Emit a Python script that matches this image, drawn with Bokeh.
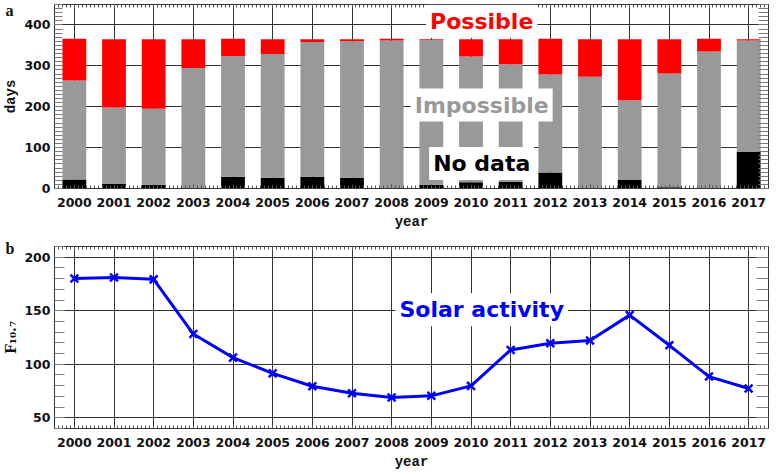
import math
from bokeh.plotting import figure
from bokeh.layouts import column
from bokeh.models import (Range1d, SingleIntervalTicker, LinearAxis, Label,
                          ColumnDataSource, Title, CustomLabelingPolicy)
from bokeh.embed import file_html
from bokeh.resources import INLINE

# ---------------- data ----------------
years = [2000, 2001, 2002, 2003, 2004, 2005, 2006, 2007, 2008,
         2009, 2010, 2011, 2012, 2013, 2014, 2015, 2016, 2017]
no_data = [22, 11, 9, 0, 29, 26, 29, 26, 0, 9, 15, 16, 39, 2, 21, 3, 0, 89]
impossible = [242, 187, 186, 295, 295, 303, 329, 334, 362, 354, 308, 288,
              240, 271, 195, 278, 335, 273]
possible = [102, 167, 170, 70, 42, 36, 7, 5, 4, 2, 42, 61, 87, 92, 149, 84, 31, 3]
f107 = [180.2, 181.0, 179.3, 128.2, 106.2, 91.5, 79.5, 72.9, 69.0,
        70.5, 79.8, 113.4, 119.7, 122.2, 145.9, 117.7, 88.5, 77.4]

# ---------------- layout / style ----------------
X0, X1 = 1999.5, 2017.5
FW = 714
LEFT, RIGHT = 50, 4
H1, H2 = 184, 182
TICK_FONT = "DejaVu Sans"
LABEL_FONT = "Liberation Mono"
GRID = "#333333"
MINOR = "#7a7a7a"

NO_LABELS = CustomLabelingPolicy(code="return new Set()")


def base_fig(h, y0, y1, top_border):
    p = figure(frame_width=FW, frame_height=h, x_range=Range1d(X0, X1),
               y_range=Range1d(y0, y1), output_backend="svg",
               toolbar_location=None, min_border_left=LEFT,
               min_border_right=RIGHT, min_border_top=top_border,
               min_border_bottom=0)
    p.outline_line_color = "#333333"
    p.outline_line_width = 1
    p.background_fill_color = "white"
    p.border_fill_color = "white"
    return p


def style_axes(p, y_interval, y_minor, left_in, right_in, ylabel, ylabel_font):
    xt = SingleIntervalTicker(interval=1, num_minor_ticks=10)
    yt = SingleIntervalTicker(interval=y_interval, num_minor_ticks=y_minor)
    bx = p.below[0]
    ly = p.left[0]
    bx.ticker = xt
    ly.ticker = yt
    p.xgrid.ticker = xt
    p.ygrid.ticker = yt
    for g in (p.xgrid, p.ygrid):
        g.grid_line_color = GRID
        g.grid_line_width = 1
    for ax in (bx, ly):
        ax.major_label_text_font = TICK_FONT
        ax.major_label_text_font_style = "bold"
        ax.major_label_text_font_size = "12.5px"
        ax.major_label_text_color = "#111111"
        ax.axis_line_color = "#333333"
        ax.major_tick_out = 0
        ax.minor_tick_out = 0
        ax.axis_label_text_font = LABEL_FONT
        ax.axis_label_text_font_style = "bold"
        ax.axis_label_text_font_size = "14px"
        ax.axis_label_text_color = "#111111"
    bx.major_tick_in = 4
    bx.minor_tick_in = 3
    bx.major_tick_line_color = "#444444"
    bx.minor_tick_line_color = "#555555"
    bx.major_label_standoff = 9
    bx.axis_label = "year"
    bx.axis_label_standoff = 4
    ly.major_tick_in = left_in
    ly.minor_tick_in = left_in
    ly.major_tick_line_color = MINOR
    ly.minor_tick_line_color = MINOR
    ly.major_label_standoff = 4
    ly.axis_label = ylabel
    ly.axis_label_standoff = 2
    ly.axis_label_text_font = ylabel_font

    top = LinearAxis(ticker=xt, major_label_text_font_size="0px",
                     major_label_policy=NO_LABELS,
                     major_label_standoff=0, major_tick_out=0, minor_tick_out=0,
                     major_tick_in=4, minor_tick_in=3,
                     major_tick_line_color="#444444",
                     minor_tick_line_color="#555555",
                     axis_line_color="#333333")
    p.add_layout(top, "above")
    right = LinearAxis(ticker=yt, major_label_text_font_size="0px",
                       major_label_policy=NO_LABELS,
                       major_label_standoff=0, major_tick_out=0, minor_tick_out=0,
                       major_tick_in=right_in, minor_tick_in=right_in,
                       major_tick_line_color=MINOR, minor_tick_line_color=MINOR,
                       axis_line_color="#333333")
    p.add_layout(right, "right")


def boxed(x, y, text, color):
    return Label(x=x, y=y, text=text, text_align="center",
                 text_baseline="middle", text_color=color,
                 text_font="DejaVu Sans", text_font_style="bold",
                 text_font_size="22px", background_fill_color="white",
                 padding=4)


def panel_tag(text, standoff):
    # panel letter placed in the top-left corner, left of the frame
    return Title(text=text, align="left", offset=-49, standoff=standoff,
                 vertical_align="bottom", text_font="Liberation Serif",
                 text_font_style="bold", text_font_size="16px",
                 text_color="#111111")


# ---------------- panel a ----------------
p1 = base_fig(H1, 0, 450, 4)
src = ColumnDataSource(dict(year=years, no_data=no_data,
                            impossible=impossible, possible=possible))
p1.vbar_stack(["no_data", "impossible", "possible"], x="year", width=0.6,
              source=src, fill_color=["black", "#999999", "#ff0000"],
              line_color=None)
style_axes(p1, 100, 10, 8, 10, "days", LABEL_FONT)
p1.add_layout(boxed(2010.27, 409, "Possible", "#ff0000"))
p1.add_layout(boxed(2010.27, 204, "Impossible", "#999999"))
p1.add_layout(boxed(2010.27, 61, "No data", "black"))
p1.add_layout(panel_tag("a", -28), "above")

# ---------------- panel b ----------------
p2 = base_fig(H2, 40, 210, 14)
p2.line(years, f107, line_width=3, color="#0000ff")
p2.scatter(years, f107, marker="x", size=11, line_width=2.5, color="#0000ff")
style_axes(p2, 50, 5, 10, 12, "F\u2081\u2080.\u2087", "DejaVu Serif")
p2.add_layout(boxed(2010.27, 151, "Solar activity", "#0000ff"))
p2.add_layout(panel_tag("b", -20), "above")

layout = column(p1, p2, spacing=0)
open("out.html", "w").write(file_html(layout, INLINE))
